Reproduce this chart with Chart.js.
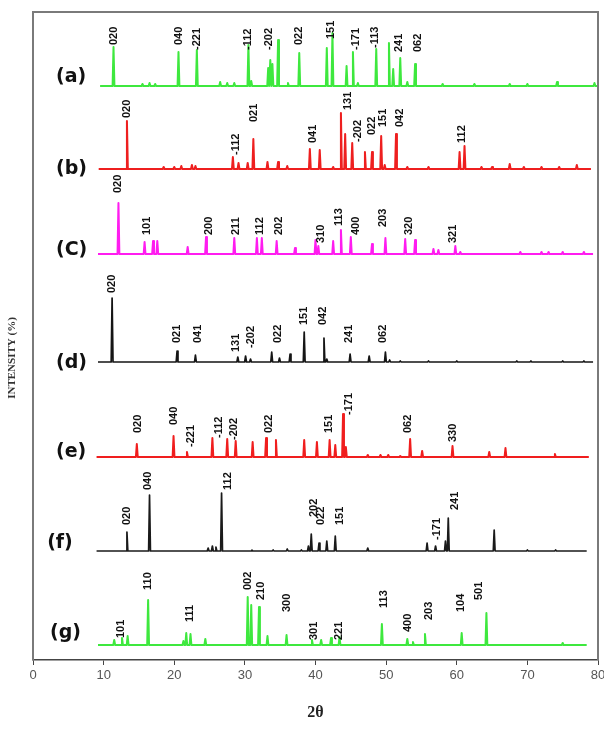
<!DOCTYPE html>
<html>
<head>
<meta charset="utf-8">
<script src="https://cdn.jsdelivr.net/npm/chart.js@4.4.1/dist/chart.umd.min.js"></script>
<style>
  html, body { margin: 0; padding: 0; background: #fff; }
  #xrd { display: block; }
</style>
</head>
<body>
<canvas id="xrd" width="604" height="731"></canvas>
<script>
// Sample names and their vertical offsets (intensity units, stacked)
const sampleTags = ["(a)", "(b)", "(C)", "(d)", "(e)", "(f)", "(g)"]
const baselines = [574, 491, 406, 298, 203, 109, 15]
const traceStart = [9.5, 9.3, 9.2, 9.2, 9.0, 9.0, 9.2]
const traceEnd = [80.0, 79.0, 79.3, 79.3, 78.7, 78.4, 78.4]
const traceColors = ["#3ee83e", "#ee1f1f", "#ff1cf0", "#151515", "#f01e1e", "#1a1a1a", "#3ee83e"]

// Peak positions (2θ) and heights for each pattern
const peaksA = [11.4, 15.5, 16.5, 17.3, 20.6, 23.2, 26.5, 27.5, 28.5, 30.5, 30.9, 33.3, 33.6, 33.9, 34.7, 36.1, 37.7, 41.6, 42.4, 44.4, 45.3, 46.0, 48.6, 50.4, 51.0, 52.0, 53.0, 54.1, 58.0, 62.5, 67.5, 70.0, 74.2, 79.5]
const heightsA = [39, 2, 3, 2, 34, 36, 4, 3, 3, 41, 5, 18, 26, 22, 46, 3, 33, 38, 53, 20, 34, 3, 37, 43, 17, 28, 4, 22, 2, 2, 2, 2, 4, 3]

const peaksB = [13.3, 18.5, 20.0, 21.0, 22.5, 23.0, 28.3, 29.1, 30.4, 31.2, 33.2, 34.7, 36.0, 39.2, 40.6, 42.5, 43.6, 44.2, 45.2, 47.0, 48.0, 49.3, 49.8, 51.4, 53.0, 56.0, 60.4, 61.1, 63.5, 65.0, 67.5, 69.5, 72.0, 74.5, 77.0]
const heightsB = [48, 2, 2, 3, 4, 3, 12, 6, 6, 30, 7, 7, 3, 20, 19, 2, 56, 35, 26, 17, 17, 33, 4, 35, 2, 2, 17, 23, 2, 2, 5, 2, 2, 2, 4]

const peaksC = [12.1, 15.8, 17.0, 17.6, 21.9, 24.5, 28.5, 31.7, 32.4, 34.5, 37.1, 40.0, 40.4, 42.5, 43.6, 45.0, 48.0, 49.9, 52.7, 54.1, 56.7, 57.4, 59.8, 60.5, 69.0, 72.0, 73.0, 75.0, 78.0]
const heightsC = [51, 12, 13, 13, 7, 17, 16, 16, 16, 13, 6, 14, 8, 13, 24, 17, 10, 16, 15, 14, 5, 4, 8, 2, 2, 2, 2, 2, 2]

const peaksD = [11.2, 20.4, 23.0, 29.0, 30.1, 30.8, 33.8, 34.9, 36.4, 38.4, 41.2, 41.6, 44.9, 47.6, 49.9, 50.5, 52.0, 56.0, 60.0, 68.5, 70.5, 75.0, 78.0]
const heightsD = [64, 11, 7, 5, 6, 3, 10, 4, 8, 30, 24, 3, 8, 6, 10, 2, 1, 1, 1, 1, 1, 1, 1]

const peaksE = [14.7, 19.9, 21.8, 25.4, 27.5, 28.7, 31.1, 33.0, 34.4, 38.4, 40.2, 42.0, 42.8, 43.9, 44.3, 47.4, 49.2, 50.3, 52.0, 53.4, 55.1, 59.4, 64.6, 66.9, 73.9]
const heightsE = [13, 21, 5, 19, 18, 16, 15, 19, 17, 17, 15, 17, 12, 43, 10, 2, 2, 2, 1, 18, 6, 11, 5, 9, 3]

const peaksF = [13.3, 16.5, 24.8, 25.4, 25.9, 26.7, 31.0, 34.0, 36.0, 38.0, 39.0, 39.4, 40.5, 41.6, 42.8, 47.4, 55.8, 57.0, 58.4, 58.8, 65.3, 70.0, 74.0]
const heightsF = [19, 56, 3, 5, 4, 58, 1, 1, 2, 1, 5, 17, 8, 10, 15, 3, 8, 5, 10, 33, 21, 1, 1]

const peaksG = [11.5, 12.6, 13.4, 16.3, 21.3, 21.7, 22.3, 24.4, 30.4, 30.9, 32.0, 33.2, 35.9, 39.5, 40.8, 42.2, 43.4, 49.4, 53.0, 53.8, 55.5, 60.7, 64.2, 75.0]
const heightsG = [5, 7, 9, 45, 4, 12, 11, 6, 48, 40, 38, 9, 10, 5, 5, 7, 8, 21, 6, 3, 11, 12, 32, 2]

// Miller index labels: [2θ, intensity level of label start, text]
const labelsA = [[11.4, 615, "020"], [20.6, 615, "040"], [23.2, 610, "-221"], [30.5, 610, "-112"], [33.4, 610, "-202"], [37.6, 615, "022"], [42.2, 621, "151"], [45.7, 610, "-171"], [48.4, 612, "-113"], [51.8, 608, "241"], [54.5, 608, "062"]]
const labelsB = [[13.35, 542, "020"], [28.7, 505, "-112"], [31.25, 538, "021"], [39.6, 517, "041"], [44.6, 550, "131"], [46.0, 518, "-202"], [48.0, 525, "022"], [49.6, 533, "151"], [52.0, 533, "042"], [60.8, 517, "112"]]
const labelsC = [[12.1, 467, "020"], [16.2, 425, "101"], [24.9, 425, "200"], [28.7, 425, "211"], [32.2, 425, "112"], [34.8, 425, "202"], [40.8, 417, "310"], [43.3, 434, "113"], [45.7, 425, "400"], [49.6, 433, "203"], [53.3, 425, "320"], [59.5, 417, "321"]]
const labelsD = [[11.2, 367, "020"], [20.45, 317, "021"], [23.3, 317, "041"], [28.7, 308, "131"], [30.8, 312, "-202"], [34.7, 317, "022"], [38.35, 335, "151"], [41.05, 335, "042"], [44.75, 317, "241"], [49.6, 317, "062"]]
const labelsE = [[14.9, 227, "020"], [19.9, 235, "040"], [22.4, 213, "-221"], [26.3, 222, "-112"], [28.4, 220, "-202"], [33.4, 227, "022"], [41.9, 227, "151"], [44.7, 245, "-171"], [53.1, 227, "062"], [59.5, 218, "330"]]
const labelsF = [[13.35, 135, "020"], [16.3, 170, "040"], [27.55, 170, "112"], [39.8, 143, "202"], [40.8, 135, "022"], [43.5, 135, "151"], [57.2, 120, "-171"], [59.7, 150, "241"]]
const labelsG = [[12.4, 22, "101"], [16.3, 70, "110"], [22.2, 38, "111"], [30.5, 70, "002"], [32.25, 60, "210"], [35.9, 48, "300"], [39.8, 20, "301"], [43.3, 20, "221"], [49.7, 52, "113"], [53.1, 28, "400"], [56.0, 40, "203"], [60.65, 48, "104"], [63.2, 60, "501"]]

// Sample tag anchors: [2θ, level]
const tagAnchors = [[3.25, 583], [3.25, 491], [3.25, 410], [3.25, 297], [3.25, 208], [2.0, 117], [2.4, 27]]

const xTicks = [0, 10, 20, 30, 40, 50, 60, 70, 80]

const allPeaks = [peaksA, peaksB, peaksC, peaksD, peaksE, peaksF, peaksG]
const allHeights = [heightsA, heightsB, heightsC, heightsD, heightsE, heightsF, heightsG]
const allLabels = [labelsA, labelsB, labelsC, labelsD, labelsE, labelsF, labelsG]

function buildTrace(i) {
  const base = baselines[i]
  const pts = [{ x: traceStart[i], y: base }]
  allPeaks[i].forEach((p, k) => {
    pts.push({ x: p - 0.13, y: base })
    pts.push({ x: p, y: base + allHeights[i][k] })
    pts.push({ x: p + 0.13, y: base })
  })
  pts.push({ x: traceEnd[i], y: base })
  return pts
}

const datasets = sampleTags.map((tag, i) => ({
  label: tag,
  data: buildTrace(i),
  borderColor: traceColors[i],
  borderWidth: i === 3 || i === 5 ? 1.7 : 2,
  borderJoinStyle: "round",
  pointRadius: 0,
  tension: 0,
  fill: false,
}))

// Frame, peak labels, sample tags and axis titles
const annotatePlugin = {
  id: "annotate",
  afterDatasetsDraw(chart) {
    const { ctx, chartArea, scales } = chart
    const xs = scales.x, ys = scales.y
    ctx.save()
    ctx.strokeStyle = "#7a7a7a"
    ctx.lineWidth = 2
    ctx.beginPath()
    ctx.moveTo(chartArea.left, chartArea.bottom)
    ctx.lineTo(chartArea.left, chartArea.top)
    ctx.lineTo(chartArea.right, chartArea.top)
    ctx.lineTo(chartArea.right, chartArea.bottom)
    ctx.stroke()

    ctx.fillStyle = "#111"
    ctx.font = "bold 11px 'Liberation Sans', Arial, sans-serif"
    ctx.textAlign = "left"
    ctx.textBaseline = "middle"
    allLabels.forEach(list => {
      list.forEach(([tt, lv, txt]) => {
        ctx.save()
        ctx.translate(xs.getPixelForValue(tt), ys.getPixelForValue(lv))
        ctx.rotate(-Math.PI / 2)
        ctx.fillText(txt, 0, 0)
        ctx.restore()
      })
    })

    ctx.font = "bold 19px 'DejaVu Sans', Verdana, sans-serif"
    sampleTags.forEach((tag, i) => {
      const [tt, lv] = tagAnchors[i]
      ctx.fillText(tag, xs.getPixelForValue(tt), ys.getPixelForValue(lv))
    })

    ctx.fillStyle = "#333"
    ctx.font = "bold 11px 'Liberation Serif', 'Times New Roman', serif"
    ctx.textAlign = "center"
    ctx.save()
    ctx.translate(12, (chartArea.top + chartArea.bottom) / 2 + 22)
    ctx.rotate(-Math.PI / 2)
    ctx.fillText("INTENSITY (%)", 0, 0)
    ctx.restore()

    ctx.fillStyle = "#222"
    ctx.font = "bold 16px 'Liberation Serif', serif"
    ctx.fillText("2θ", (chartArea.left + chartArea.right) / 2, 713)
    ctx.restore()
  }
}

new Chart(document.getElementById("xrd").getContext("2d"), {
  type: "line",
  data: { datasets },
  options: {
    responsive: false,
    animation: false,
    layout: { padding: { left: 33, right: 6, top: 12, bottom: 0 } },
    plugins: { legend: { display: false }, tooltip: { enabled: false } },
    scales: {
      x: {
        type: "linear",
        min: xTicks[0],
        max: xTicks[xTicks.length - 1],
        afterBuildTicks(scale) { scale.ticks = xTicks.map(v => ({ value: v })) },
        afterFit(scale) { scale.height = 71; scale.paddingLeft = 0; scale.paddingRight = 0 },
        border: { color: "#444", width: 1.5 },
        grid: { drawOnChartArea: false, tickLength: 5, color: "#444" },
        ticks: { color: "#555", font: { size: 13, family: "'Liberation Sans', Arial, sans-serif" }, padding: 3 }
      },
      y: { display: false, min: 0, max: 648 }
    }
  },
  plugins: [annotatePlugin]
})
</script>
</body>
</html>
